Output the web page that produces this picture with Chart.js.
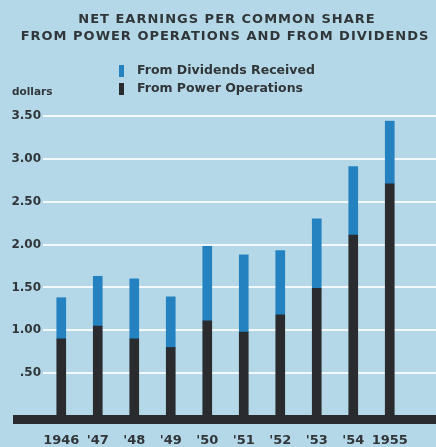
<!DOCTYPE html>
<html>
<head>
<meta charset="utf-8">
<script src="https://cdn.jsdelivr.net/npm/chart.js@4/dist/chart.umd.min.js"></script>
<style>
  html, body { margin: 0; padding: 0; background: #b4d8e7; }
  #wrap { width: 436px; height: 447px; position: relative; }
</style>
</head>
<body>
<div id="wrap"><canvas id="grafico" width="436" height="447"></canvas></div>
<script>
// anos e valores (dólares por ação)
const anos = ['1946', "'47", "'48", "'49", "'50", "'51", "'52", "'53", "'54", '1955'];
const operacoes = [0.90, 1.05, 0.90, 0.80, 1.11, 0.98, 1.18, 1.49, 2.11, 2.71];
const dividendos = [0.48, 0.58, 0.70, 0.59, 0.87, 0.90, 0.75, 0.81, 0.80, 0.73];
const titulo = ['NET EARNINGS PER COMMON SHARE', 'FROM POWER OPERATIONS AND FROM DIVIDENDS'];
const unidade = 'dollars';

const corTexto = '#30363a';
const corAzul = '#2482c0';
const corPreto = '#2a2b2e';
const fonte = '"DejaVu Sans", sans-serif';

// linhas brancas da grade e a base grossa
const pluginGrade = {
  id: 'pluginGrade',
  beforeDatasetsDraw(chart) {
    const { ctx, chartArea, scales: { y } } = chart;
    ctx.save();
    ctx.strokeStyle = '#f3f8fa';
    ctx.lineWidth = 2;
    y.ticks.forEach(t => {
      if (t.value === 0) return;
      const yPos = Math.round(y.getPixelForValue(t.value));
      ctx.beginPath();
      ctx.moveTo(chartArea.left, yPos);
      ctx.lineTo(chart.width, yPos);
      ctx.stroke();
    });
    ctx.restore();
  },
  afterDatasetsDraw(chart) {
    const { ctx, scales: { y } } = chart;
    const y0 = Math.round(y.getPixelForValue(0));
    ctx.save();
    ctx.fillStyle = corPreto;
    ctx.fillRect(13, y0 - 1, chart.width - 13, 9);
    ctx.restore();
  }
};

// título, legenda e "dollars"
const pluginTextos = {
  id: 'pluginTextos',
  afterDraw(chart) {
    const { ctx } = chart;
    ctx.save();
    ctx.fillStyle = corTexto;
    ctx.textBaseline = 'middle';
    ctx.textAlign = 'center';
    ctx.font = `bold 13px ${fonte}`;
    ctx.letterSpacing = '1px';
    ctx.fillText(titulo[0], 227, 20);
    ctx.fillText(titulo[1], 225, 37);

    ctx.letterSpacing = '0px';
    ctx.textAlign = 'left';
    const itens = [
      { texto: chart.data.datasets[1].label, cor: corAzul, y: 71 },
      { texto: chart.data.datasets[0].label, cor: corPreto, y: 89 }
    ];
    ctx.font = `bold 12.5px ${fonte}`;
    itens.forEach(item => {
      ctx.fillStyle = item.cor;
      ctx.fillRect(119, item.y - 6, 5, 12);
      ctx.fillStyle = corTexto;
      ctx.fillText(item.texto, 137, item.y);
    });

    ctx.font = `bold 10.5px ${fonte}`;
    ctx.fillText(unidade, 12, 92);
    ctx.restore();
  }
};

new Chart(document.getElementById('grafico'), {
  type: 'bar',
  data: {
    labels: anos,
    datasets: [
      { label: 'From Power Operations', data: operacoes, backgroundColor: corPreto, barThickness: 9 },
      { label: 'From Dividends Received', data: dividendos, backgroundColor: corAzul, barThickness: 9 }
    ]
  },
  options: {
    responsive: false,
    animation: false,
    layout: { padding: { top: 116, left: 10, right: 28, bottom: 0 } },
    plugins: {
      legend: { display: false },
      title: { display: false },
      tooltip: { enabled: false }
    },
    scales: {
      x: {
        stacked: true,
        grid: { display: false, drawTicks: false },
        border: { display: false },
        ticks: {
          color: corTexto,
          padding: 17,
          font: { family: fonte, weight: 'bold', size: 13 },
          maxRotation: 0,
          autoSkip: false
        },
        afterFit(scale) { scale.height = 31; }
      },
      y: {
        stacked: true,
        min: 0,
        max: 3.5,
        grid: { display: false, drawTicks: false },
        border: { display: false },
        ticks: {
          stepSize: 0.5,
          padding: 2,
          color: corTexto,
          font: { family: fonte, weight: 'bold', size: 12 },
          callback: v => v === 0 ? '' : (v < 1 ? '.' + v.toFixed(2).split('.')[1] : v.toFixed(2))
        },
        afterFit(scale) { scale.width = 33; }
      }
    }
  },
  plugins: [pluginGrade, pluginTextos]
});
</script>
</body>
</html>
